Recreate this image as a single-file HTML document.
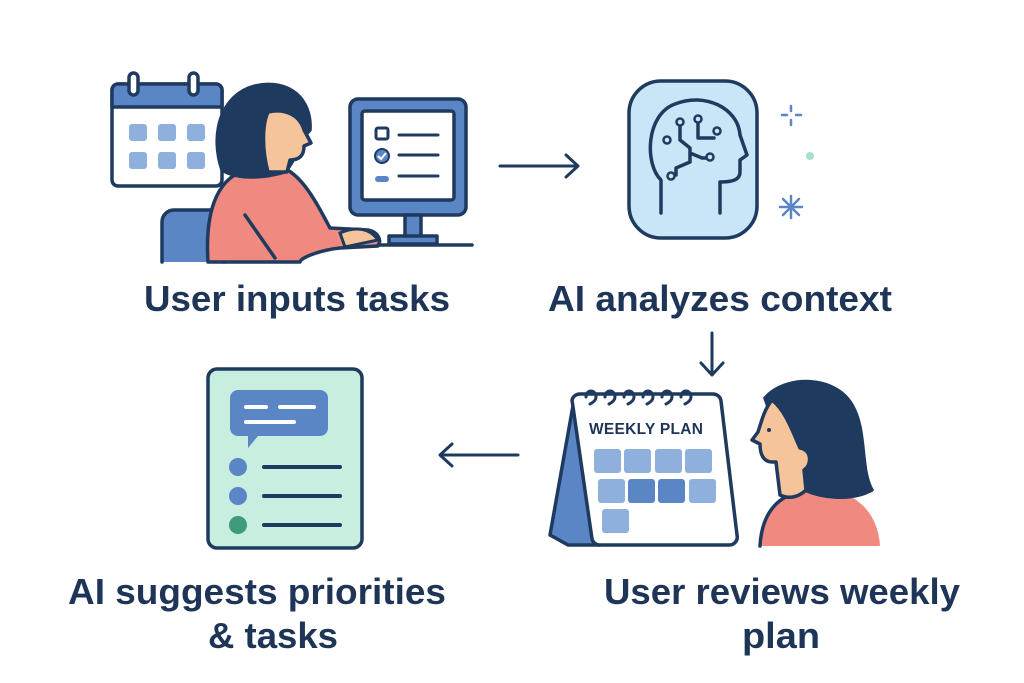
<!DOCTYPE html>
<html><head><meta charset="utf-8"><style>
html,body{margin:0;padding:0;background:#fff;}
svg{display:block}
text{font-family:"Liberation Sans","DejaVu Sans",sans-serif;fill:#1e3557;font-weight:600}
</style></head><body>
<svg width="1024" height="683" viewBox="0 0 1024 683" xmlns="http://www.w3.org/2000/svg">
<g stroke="#1f3a5f" stroke-width="3.5" stroke-linecap="round" stroke-linejoin="round">
<rect x="112" y="84" width="110" height="102" rx="6" fill="#fff"/>
<path d="M112 107 V90 a6 6 0 0 1 6 -6 h98 a6 6 0 0 1 6 6 V107 Z" fill="#5b86c5"/>
<rect x="129" y="73" width="9" height="22" rx="4.5" fill="#fff"/>
<rect x="189" y="73" width="9" height="22" rx="4.5" fill="#fff"/>
</g>
<g fill="#8fb0dd">
<rect x="129" y="124" width="18" height="17" rx="3"/><rect x="158" y="124" width="18" height="17" rx="3"/><rect x="187" y="124" width="18" height="17" rx="3"/>
<rect x="129" y="152" width="18" height="17" rx="3"/><rect x="158" y="152" width="18" height="17" rx="3"/><rect x="187" y="152" width="18" height="17" rx="3"/>
</g>
<g stroke="#1f3a5f" stroke-width="3.5" stroke-linecap="round" stroke-linejoin="round">
<path d="M162 262 V222 a12 12 0 0 1 12 -12 h38 a12 12 0 0 1 12 12 V262" fill="#5b86c5"/>
<path d="M208 262 C205 215 215 180 245 170 L275 165 C300 170 315 200 330 228 L368 230 C378 232 382 240 378 246 L340 248 C320 250 300 258 300 262 Z" fill="#f08a80"/>
<path d="M245 215 L275 258" fill="none"/>
<path d="M222 170 C210 135 220 95 255 86 C290 78 312 100 310 130 C300 140 296 160 285 172 C265 178 238 180 222 170 Z" fill="#1f3a5f"/>
<path d="M268 112 C285 108 300 115 304 130 L311 143 L304 146 C304 155 300 160 290 160 L287 172 L268 172 C262 150 262 125 268 112 Z" fill="#f5c49a"/>
<rect x="350" y="99" width="116" height="116" rx="8" fill="#5b86c5"/>
<rect x="362" y="111" width="92" height="89" rx="3" fill="#fff"/>
<rect x="405" y="215" width="16" height="22" fill="#5b86c5"/>
<rect x="389" y="236" width="48" height="8" fill="#5b86c5"/>
<path d="M378 245 H472" fill="none"/>
<path d="M399 135 H438 M399 155 H438 M399 176 H438" fill="none" stroke-width="3"/>
<rect x="376" y="128" width="12" height="11" rx="2" fill="#fff" stroke-width="3"/>
</g>
<circle cx="382" cy="156" r="7" fill="#5b86c5" stroke="#1f3a5f" stroke-width="2"/>
<path d="M378 156 l3 3 l5 -6" stroke="#fff" stroke-width="2" fill="none"/>
<rect x="375" y="176" width="14" height="6" rx="3" fill="#5b86c5"/>
<path d="M340 233 C355 226 370 228 378 240 L345 247 Z" fill="#f5c49a" stroke="#1f3a5f" stroke-width="3"/>

<g stroke="#1f3a5f" stroke-width="3" fill="none" stroke-linecap="round" stroke-linejoin="round">
<path d="M500 166 H577 M566 155 L578 166 L566 177"/>
<path d="M712 333 V374 M701 363 L712 375 L723 363"/>
<path d="M518 455 H441 M452 444 L440 455 L452 466"/>
</g>

<g stroke="#1f3a5f" stroke-width="3.5" fill="none" stroke-linecap="round" stroke-linejoin="round">
<rect x="629" y="81" width="128" height="157" rx="32" fill="#c9e6f8"/>
<path d="M661 213 V180 C645 165 645 115 675 104 C705 92 738 108 740 135 L747 155 L740 160 V172 C740 180 732 182 720 182 V213"/>
<path d="M680 124 V140 L690 148 V162 M698 122 V138 H714 M690 153 L702 158 H708 M690 162 L676 168 V175"/>
</g>
<g fill="#c9e6f8" stroke="#1f3a5f" stroke-width="2.5">
<circle cx="680" cy="122" r="3.5"/><circle cx="698" cy="119" r="3.5"/><circle cx="717" cy="131" r="3.5"/><circle cx="667" cy="140" r="3.5"/><circle cx="710" cy="157" r="3.5"/><circle cx="671" cy="176" r="3.5"/>
</g>
<g stroke="#5b86c5" stroke-width="2.5" stroke-linecap="round">
<path d="M791 106 v5 M791 120 v5 M782 115 h5 M796 115 h5"/>
<path d="M791 196 v22 M780 207 h22 M783 199 l16 16 M799 199 l-16 16"/>
</g>
<circle cx="810" cy="156" r="4" fill="#a8e0cc"/>

<g stroke="#1f3a5f" stroke-width="3.5" stroke-linecap="round" stroke-linejoin="round">
<rect x="208" y="369" width="154" height="179" rx="9" fill="#c8eedf"/>
</g>
<path d="M238 390 h82 a8 8 0 0 1 8 8 v30 a8 8 0 0 1 -8 8 h-62 l-10 12 v-12 h-10 a8 8 0 0 1 -8 -8 v-30 a8 8 0 0 1 8 -8 Z" fill="#5b86c5"/>
<g stroke="#fff" stroke-width="4" stroke-linecap="round">
<path d="M246 407 h20 M280 407 h34 M246 422 h48"/>
</g>
<circle cx="238" cy="467" r="9" fill="#5b86c5"/><circle cx="238" cy="496" r="9" fill="#5b86c5"/><circle cx="238" cy="525" r="9" fill="#3f9a7e"/>
<g stroke="#1f3a5f" stroke-width="4" stroke-linecap="round">
<path d="M264 467 H340 M264 496 H340 M264 525 H340"/>
</g>

<g stroke="#1f3a5f" stroke-width="3.5" stroke-linejoin="round" stroke-linecap="round">
<path d="M574 400 L550 535 L568 545 L600 545 Z" fill="#5b86c5"/>
<path d="M572 400 a8 8 0 0 1 8 -6 h133 a8 8 0 0 1 8 7 L737 535 a8 8 0 0 1 -8 10 H600 a8 8 0 0 1 -8 -6 Z" fill="#fff"/>
<g fill="none" stroke-width="3">
<path d="M586 397 c0 -8 10 -8 10 0 c0 4 -4 6 -6 7"/>
<path d="M605 397 c0 -8 10 -8 10 0 c0 4 -4 6 -6 7"/>
<path d="M624 397 c0 -8 10 -8 10 0 c0 4 -4 6 -6 7"/>
<path d="M643 397 c0 -8 10 -8 10 0 c0 4 -4 6 -6 7"/>
<path d="M662 397 c0 -8 10 -8 10 0 c0 4 -4 6 -6 7"/>
<path d="M681 397 c0 -8 10 -8 10 0 c0 4 -4 6 -6 7"/>
</g>
</g>
<text x="589" y="434" font-size="15.5" textLength="114">WEEKLY PLAN</text>
<g fill="#8fb0dd">
<rect x="594" y="449" width="27" height="24" rx="3"/><rect x="624" y="449" width="27" height="24" rx="3"/><rect x="655" y="449" width="27" height="24" rx="3"/><rect x="685" y="449" width="27" height="24" rx="3"/>
<rect x="598" y="479" width="27" height="24" rx="3"/><rect x="689" y="479" width="27" height="24" rx="3"/>
<rect x="602" y="509" width="27" height="24" rx="3"/>
</g>
<rect x="628" y="479" width="27" height="24" rx="3" fill="#5b86c5"/><rect x="658" y="479" width="27" height="24" rx="3" fill="#5b86c5"/>

<g stroke="#1f3a5f" stroke-width="3.5" stroke-linejoin="round" stroke-linecap="round">
<path d="M760 546 C762 510 780 495 805 490 L830 490 C860 495 878 515 880 546 Z" fill="#f08a80" stroke="none"/>
<path d="M760 546 C762 510 780 495 805 490" fill="none"/>
<path d="M765 398 C785 375 835 375 852 405 C867 430 860 470 872 490 C850 502 820 497 805 490 L790 470 Z" fill="#1f3a5f"/>
<path d="M772 400 C764 410 762 420 758 432 L752 440 L760 444 C760 455 764 462 772 462 L776 462 L780 495 C790 500 800 496 806 490 L804 470 C812 465 812 450 800 448 C792 430 785 410 772 400 Z" fill="#f5c49a"/>
</g>
<circle cx="769" cy="430" r="2" fill="#1f3a5f"/>

<text x="144" y="311" font-size="36" textLength="306" lengthAdjust="spacingAndGlyphs">User inputs tasks</text>
<text x="548" y="311" font-size="36" textLength="344" lengthAdjust="spacingAndGlyphs">AI analyzes context</text>
<text x="68" y="604" font-size="36" textLength="378" lengthAdjust="spacingAndGlyphs">AI suggests priorities</text>
<text x="208" y="648" font-size="36" textLength="130" lengthAdjust="spacingAndGlyphs">&amp; tasks</text>
<text x="604" y="604" font-size="36" textLength="356" lengthAdjust="spacingAndGlyphs">User reviews weekly</text>
<text x="742" y="648" font-size="36" textLength="78" lengthAdjust="spacingAndGlyphs">plan</text>
</svg>
</body></html>
